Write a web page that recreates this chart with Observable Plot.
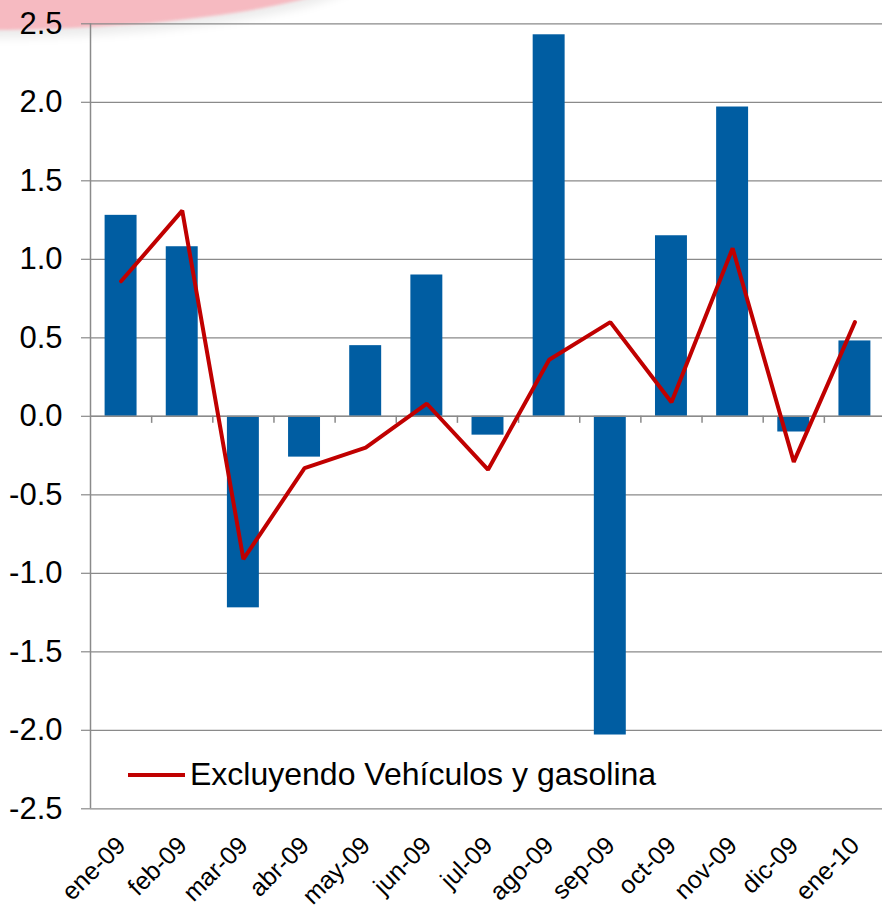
<!DOCTYPE html>
<html><head><meta charset="utf-8">
<script src="https://cdn.jsdelivr.net/npm/d3@7"></script>
<script src="https://cdn.jsdelivr.net/npm/@observablehq/plot@0.6"></script>
<style>
body{margin:0;background:#fff;font-family:Arial,"Liberation Sans",sans-serif;}
#wrap{position:relative;width:882px;height:910px;overflow:hidden;background:#fff;}
#swoosh{position:absolute;left:-420px;top:-120px;width:800px;height:150px;border-radius:50%;
  background:rgba(240,140,152,0.6);box-shadow:0 8px 10px rgba(0,0,0,0.08);filter:blur(1.5px);}
#chart{position:absolute;left:0;top:0;}
#legend{position:absolute;left:128px;top:758px;height:32px;}
#legend .ln{position:absolute;left:0;top:15px;width:57px;height:4px;background:#C00000;}
#legend .tx{position:absolute;left:62px;top:0;font-size:32px;line-height:32px;white-space:nowrap;color:#000;}
</style></head><body>
<div id="wrap"><div id="swoosh"></div><div id="chart"></div>
<div id="legend"><div class="ln"></div><div class="tx"></div></div></div>
<script>
const months = ["ene-09","feb-09","mar-09","abr-09","may-09","jun-09","jul-09","ago-09","sep-09","oct-09","nov-09","dic-09","ene-10"];
const totalValues = [1.28, 1.08, -1.22, -0.26, 0.45, 0.90, -0.12, 2.43, -2.03, 1.15, 1.97, -0.10, 0.48];
const exclValues = [0.86, 1.31, -0.91, -0.33, -0.20, 0.08, -0.34, 0.36, 0.60, 0.09, 1.07, -0.29, 0.60];
const yTicks = [-2.5, -2.0, -1.5, -1.0, -0.5, 0.0, 0.5, 1.0, 1.5, 2.0, 2.5];
const legendLabel = "Excluyendo Vehículos y gasolina";

const data = months.map((m, i) => ({i, month: m, total: totalValues[i], excl: exclValues[i]}));
const boundaries = d3.range(1, months.length);
const grid = "#8a8a8a";

const chart = Plot.plot({
  width: 882, height: 910,
  marginLeft: 90, marginRight: 0, marginTop: 23, marginBottom: 102,
  style: {fontFamily: "Arial, 'Liberation Sans', sans-serif", fontSize: "31px", background: "transparent", color: "#000"},
  x: {type: "linear", domain: [0, months.length], range: [90, 885], axis: null},
  y: {domain: [-2.5, 2.5], range: [808.3, 23.3], axis: null},
  marks: [
    Plot.gridY(yTicks, {stroke: grid, strokeOpacity: 1, strokeWidth: 1.2}),
    Plot.axisY(yTicks, {tickSize: 9, tickPadding: 19, stroke: grid, strokeWidth: 1.2, fill: "#000", fontSize: 31,
      tickFormat: d => d.toFixed(1), label: null}),
    Plot.ruleX([0], {y1: -2.5, y2: 2.5, stroke: grid, strokeWidth: 1.5}),
    Plot.rectY(data, {x1: d => d.i, x2: d => d.i + 1, y: "total", insetLeft: 14.6, insetRight: 14.6, fill: "#005DA2"}),
    Plot.ruleY([0], {stroke: grid, strokeWidth: 1.5}),
    Plot.ruleX(boundaries, {y1: 0, y2: -0.045, stroke: grid, strokeWidth: 1.5}),
    Plot.lineY(data, {x: d => d.i + 0.5, y: "excl", stroke: "#C00000", strokeWidth: 4, strokeLinejoin: "miter"}),
    Plot.text(data, {x: d => d.i + 0.5, y: () => -2.5, text: "month", rotate: -45, textAnchor: "end",
      lineAnchor: "bottom", fontSize: 25, dx: 6, dy: 38, fill: "#000"})
  ]
});
document.getElementById("chart").appendChild(chart);
document.querySelector("#legend .tx").textContent = legendLabel;
</script>
</body></html>
